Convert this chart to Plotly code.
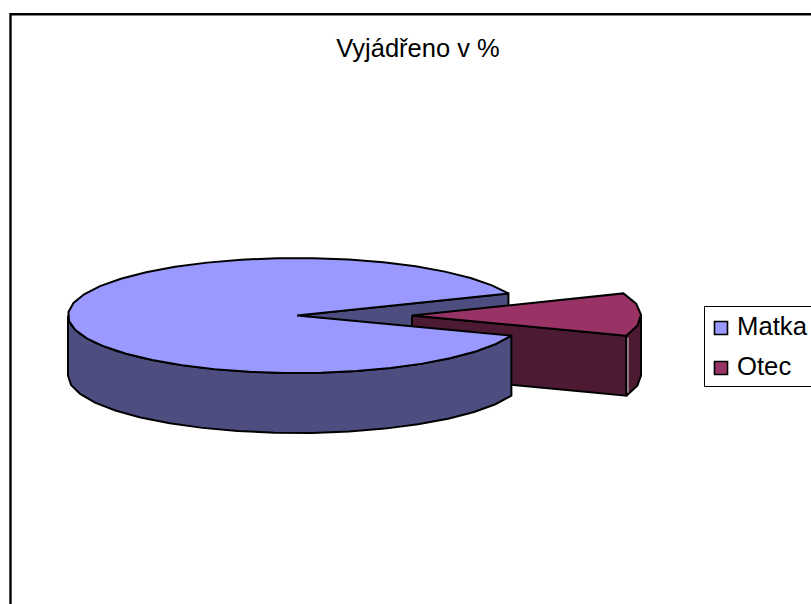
import numpy as np
import plotly.graph_objects as go

categories = ["Matka", "Otec"]
values = [88, 12]
title = "Vyjádřeno v %"

top_colors = ["#9999FF", "#993366"]
side_colors = ["#4D4D80", "#4D1A33"]

W, H = 811, 604
CX, CY = 297, 315.5      # centre of the top face of the pie
RX, RY = 229, 57.5       # ellipse radii of the flattened pie
DEPTH = 60               # height of the extruded wall
EXPLODE = 115            # pull-out of the second slice
LINE = dict(color="black", width=2)
FONT = "Liberation Sans, Arial, sans-serif"

# slice angles derived from the values (degrees, counter-clockwise on screen)
share = 360 * values[1] / sum(values)
CENTER_ANGLE = 1.0
otec_a0, otec_a1 = CENTER_ANGLE - share / 2, CENTER_ANGLE + share / 2
matka_a0, matka_a1 = otec_a1, otec_a0 + 360


def arc(a0, a1, cx, step=9, dy=0.0):
    n = max(2, int(abs(a1 - a0) / step) + 1)
    t = np.radians(np.linspace(a0, a1, n))
    return cx + RX * np.cos(t), CY + dy - RY * np.sin(t)


def poly(fig, x, y, color):
    x = np.append(x, x[0])
    y = np.append(y, y[0])
    fig.add_trace(go.Scatter(x=x, y=y, mode="lines", fill="toself", fillcolor=color,
                             line=LINE, hoverinfo="skip", showlegend=False))


def cut_wall(fig, angle, cx, color):
    ex, ey = arc(angle, angle, cx)
    poly(fig, [cx, ex[0], ex[0], cx], [CY, ey[0], ey[0] + DEPTH, CY + DEPTH], color)


def side_wall(fig, a0, a1, cx, color):
    tx, ty = arc(a0, a1, cx)
    bx, by = arc(a1, a0, cx, dy=DEPTH)
    poly(fig, np.concatenate([tx, bx]), np.concatenate([ty, by]), color)


def top_face(fig, a0, a1, cx, color):
    tx, ty = arc(a0, a1, cx)
    poly(fig, np.concatenate([[cx], tx]), np.concatenate([[CY], ty]), color)


fig = go.Figure()

# Inner wall of the gap in the large slice (behind everything else)
cut_wall(fig, matka_a0, CX, side_colors[0])

# Exploded small slice
ox = CX + EXPLODE
cut_wall(fig, otec_a0, ox, side_colors[1])
side_wall(fig, otec_a0, 0, ox, side_colors[1])
top_face(fig, otec_a0, otec_a1, ox, top_colors[1])

# thin light sliver between the two walls of the small slice
sx, sy = arc(otec_a0, otec_a0, ox)
fig.add_trace(go.Scatter(x=[sx[0] + 1.6, sx[0] + 1.6], y=[sy[0] + 2, sy[0] + DEPTH - 3], mode="lines",
                         line=dict(color="#D8D8D8", width=1), hoverinfo="skip", showlegend=False))

# Front of the large slice
side_wall(fig, 180, matka_a1, CX, side_colors[0])
top_face(fig, matka_a0, matka_a1, CX, top_colors[0])

# Outer frame and hand-placed legend box (as in the reference)
shapes = [
    dict(type="rect", x0=10.5, y0=14.3, x1=W + 20, y1=H + 20,
         line=dict(color="black", width=2.4), layer="below"),
    dict(type="rect", x0=704.5, y0=306.5, x1=W + 20, y1=386.5,
         line=dict(color="black", width=1), fillcolor="white", layer="below"),
]
annotations = []
legend_y = [328, 368]
for name, col, ly in zip(categories, top_colors, legend_y):
    shapes.append(dict(type="rect", x0=714.5, x1=727.5, y0=ly - 6.5, y1=ly + 6.5,
                       fillcolor=col, line=dict(color="black", width=1.6)))
    annotations.append(dict(x=736, y=ly - 2, text=name, xref="x", yref="y",
                            xanchor="left", yanchor="middle", showarrow=False,
                            xshift=-1, font=dict(family=FONT, size=25.7, color="black")))

fig.update_layout(
    width=W, height=H, autosize=False,
    margin=dict(l=0, r=0, t=0, b=0),
    paper_bgcolor="white", plot_bgcolor="white",
    showlegend=False,
    title=dict(text=title, x=418 / W, xanchor="center", xref="paper",
               y=1 - 48 / H, yanchor="middle", yref="paper",
               font=dict(family=FONT, size=25.5, color="black")),
    xaxis=dict(range=[0, W], visible=False, fixedrange=True),
    yaxis=dict(range=[H, 0], visible=False, fixedrange=True),
    shapes=shapes, annotations=annotations,
)

fig.write_html("out.html", config={"displayModeBar": False},
               post_script="document.body.style.margin='0';document.documentElement.style.overflow='hidden';")
